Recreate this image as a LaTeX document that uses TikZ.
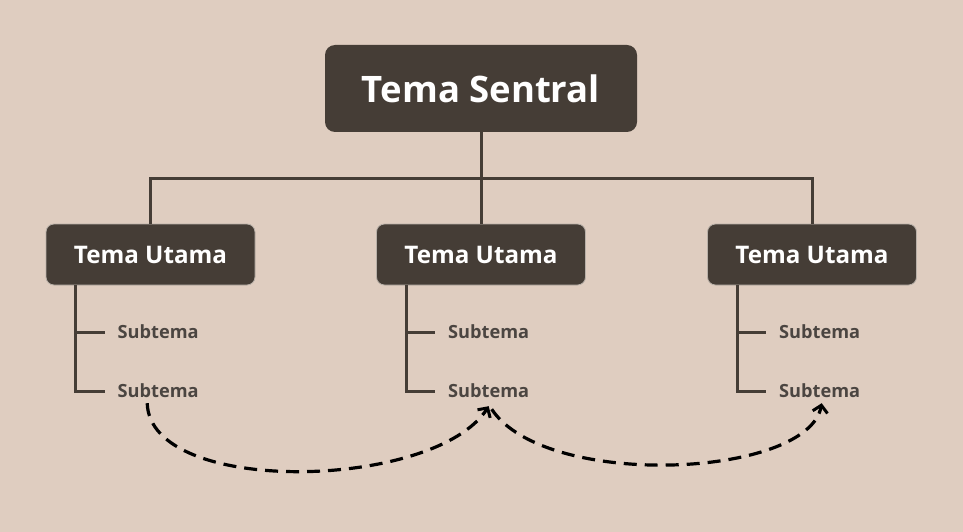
\documentclass[tikz,border=0pt]{standalone}
\usepackage{fontspec}
\setmainfont{Open Sans}
\usetikzlibrary{arrows.meta}
\definecolor{bg}{HTML}{DFCDC0}
\definecolor{ink}{HTML}{453D36}
\definecolor{subink}{HTML}{4B4541}
\definecolor{rim}{HTML}{B8B0A8}
\tikzstyle{central}=[fill=ink, rounded corners=10pt, minimum width=312pt, minimum height=87pt, text=white, font=\bfseries\fontsize{36.5}{40}\selectfont]
\tikzstyle{main}=[fill=ink, draw=rim, line width=0.8pt, rounded corners=8pt, minimum width=209pt, minimum height=61pt, text=white, font=\bfseries\fontsize{24.2}{28}\selectfont]
\tikzstyle{sub}=[anchor=west, inner sep=0pt, text=subink, font=\bfseries\fontsize{18.2}{21}\selectfont]
\tikzstyle{branch}=[draw=ink, line width=3pt]
\tikzstyle{link}=[black, line width=3.2pt, dash pattern=on 13pt off 8pt, -{Straight Barb[length=7pt,width=15pt,line width=3pt]}]

\begin{document}
\begin{tikzpicture}[x=1pt, y=-1pt]
				\fill[bg] (0,0) rectangle (963,532);
				\useasboundingbox (0,0) rectangle (963,532);
				\node[central] (central) at (481,88.5) {Tema Sentral};
				\foreach \n/\x in {left/150.5, middle/481, right/812} {
					\node[main] (\n) at (\x,254.5) {Tema Utama};
					\node[sub] (\n-a) at (\x-33,332) {Subtema};
					\node[sub] (\n-b) at (\x-33,391) {Subtema};
					\coordinate (\n-root) at (\x-75,285);
					\draw[branch] (\n-root) |- ([xshift=-13pt]\n-b.west);
					\draw[branch] (\n-root |- \n-a.west) -- ([xshift=-13pt]\n-a.west);
				}
				\coordinate (hub) at (481,178);
				\draw[branch] (central.south) -- (middle.north);
				\draw[branch] (left.north) |- (hub) -| (right.north);
				\draw[link] ([xshift=-11pt,yshift=-5pt]left-b.south) .. controls (150,497) and (435,490) .. ([xshift=0pt,yshift=-8pt]middle-b.south);
				\draw[link] ([xshift=3pt,yshift=-11pt]middle-b.south) .. controls (545,490) and (808,478) .. ([xshift=2pt,yshift=-5pt]right-b.south);
			\end{tikzpicture}
\end{document}
